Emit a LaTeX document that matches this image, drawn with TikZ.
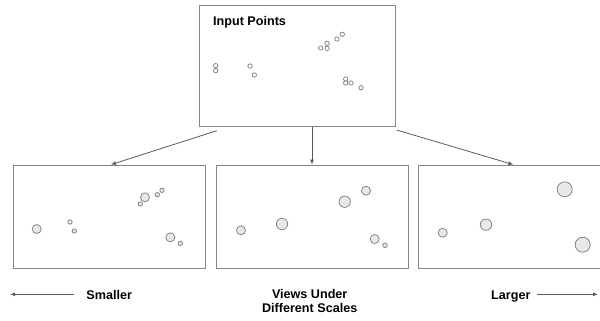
\documentclass[tikz,border=0pt]{standalone}
\usepackage{fontspec}
\setmainfont{Liberation Sans}
\usetikzlibrary{arrows.meta,calc}
\definecolor{boxline}{HTML}{858585}
\definecolor{arrline}{HTML}{5A5A5A}
\definecolor{ptfill}{HTML}{E8E8E8}
\definecolor{ptline}{HTML}{7A7A7A}
\begin{document}
\begin{tikzpicture}[x=1bp,y=-1bp,
  panel/.style={draw=boxline,line width=0.9bp,inner sep=0pt,minimum width=#1,minimum height=103.3bp},
  pt/.style={draw=ptline,fill=ptfill,line width=0.7bp},
  conn/.style={draw=arrline,line width=0.8bp,-{Latex[length=5bp,width=4bp]}},
  lbl/.style={font=\bfseries\fontsize{12.6bp}{14.2bp}\selectfont,inner sep=0pt,text=black}]
\useasboundingbox (0,0) rectangle (600,320);
\begin{scope}
\clip (0,0) rectangle (600,320);
% panels
\node[panel=196.5bp,minimum height=121.7bp] (top) at (297.3,65.8) {};
\node[panel=192.4bp] (b1) at (109.5,216.7) {};
\node[panel=192.5bp] (b2) at (312.2,216.7) {};
\node[panel=192.5bp] (b3) at (514.6,216.7) {};
% title
\node[lbl,anchor=base west] (title) at (213,25) {Input Points};
% input points
\foreach \x/\y in {215.7/65.7,215.7/70.7,250/66,254.3/75,320.7/48,327/43.3,327/48.3,337/39,342.3/34.3,345.7/79,345.7/83,351/83,361/87.7}
  \draw[pt,fill=white] (\x,\y) circle[radius=2.2];
% smaller scale
\foreach \x/\y/\r in {36.7/229/4.5,70/222/2.2,74.3/231/2.2,145/197.3/4.5,140.3/204/2.2,157.3/194.7/2.2,162/190.3/2.2,170.3/237.3/4.5,180.3/243.3/2.2}
  \draw[pt] (\x,\y) circle[radius=\r];
% middle scale
\foreach \x/\y/\r in {241/230.3/4.5,282/224/5.7,344.7/201.7/5.7,366/190.7/4.5,374.7/239/4.5,385/245.3/2.3}
  \draw[pt] (\x,\y) circle[radius=\r];
% larger scale
\foreach \x/\y/\r in {442.7/232.7/4.5,486/224.7/5.7,564.7/189.3/7.5,582.7/244.7/7.5}
  \draw[pt] (\x,\y) circle[radius=\r];
\end{scope}
% connectors
\coordinate (s1) at (216.7,130.7);
\coordinate (e1) at (111,164.6);
\coordinate (s2) at (312,126.9);
\coordinate (e2) at (312,164.6);
\coordinate (s3) at (396.7,130);
\coordinate (e3) at (513.3,164.6);
\draw[conn] (s1) -- (e1);
\draw[conn] (s2) -- (e2);
\draw[conn] (s3) -- (e3);
% bottom labels
\node[lbl,anchor=base] (small) at (109.2,299) {Smaller};
\node[lbl,anchor=base] (large) at (510.8,299) {Larger};
\node[lbl,align=center,anchor=north] (views) at (309.7,289.4) {Views Under\\Different Scales};
\coordinate (ls) at (74,294.3);
\coordinate (le) at (10,294.3);
\coordinate (rs) at (537.3,294.3);
\coordinate (re) at (598,294.3);
\draw[conn] (ls) -- (le);
\draw[conn] (rs) -- (re);
\end{tikzpicture}
\end{document}
